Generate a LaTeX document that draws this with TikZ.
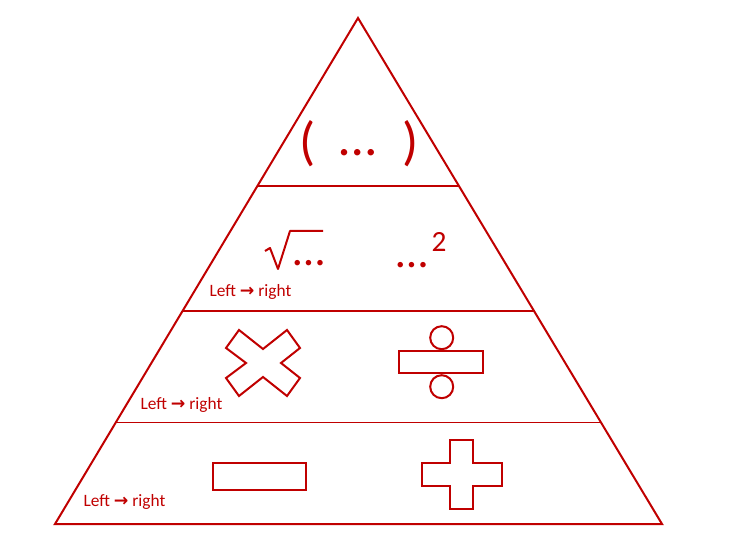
\documentclass[tikz,border=0pt]{standalone}
\usepackage{fontspec}
\setmainfont{Carlito}
\newfontfamily\arrowfont{DejaVu Sans}
\usetikzlibrary{calc}
\definecolor{pyrred}{HTML}{C00000}
\tikzset{
  pyrside/.style={draw=pyrred, line width=1.5pt, line join=miter},
  pyrlevel/.style={draw=pyrred, line width=0.8pt},
  opshape/.style={draw=pyrred, line width=1.5pt},
  ordertext/.style={text=pyrred, inner sep=0pt, font=\fontsize{13}{15}\selectfont},
  bigsym/.style={text=pyrred, inner sep=0pt, anchor=base, font=\fontsize{40}{44}\selectfont},
  midsym/.style={text=pyrred, inner sep=0pt, anchor=base, font=\fontsize{34}{38}\selectfont}
}
\newcommand{\ordarrow}{{\arrowfont\bfseries →}}

\begin{document}
\begin{tikzpicture}[x=0.75pt, y=-0.75pt]
\useasboundingbox (0,0) rectangle (736,538);

% pyramid
\coordinate (apex) at (358,18);
\coordinate (baseL) at (55,524);
\coordinate (baseR) at (662,524);
\draw[pyrside] (apex) -- (baseR) -- (baseL) -- cycle;
\draw[pyrlevel] ($(apex)!0.332!(baseL)$) -- ($(apex)!0.332!(baseR)$);
\draw[pyrlevel] ($(apex)!0.579!(baseL)$) -- ($(apex)!0.579!(baseR)$);
\draw[pyrlevel] ($(apex)!0.800!(baseL)$) -- ($(apex)!0.800!(baseR)$);

% brackets
\node[bigsym] (paropen) at (307.5,160) {(};
\node[bigsym] (pardots) at (357.5,156) {…};
\node[bigsym] (parclose) at (410.5,160) {)};

% roots and powers
\draw[opshape, line join=round] (265,251) -- (270,248) -- (278,269) -- (290,231) -- (323,231);
\node[midsym] (rootdots) at (309,266) {…};
\node[midsym] (powdots) at (412.5,268) {…};
\node[text=pyrred, inner sep=0pt, anchor=base, font=\fontsize{22}{26}\selectfont] (powtwo) at (439,252) {2};
\node[ordertext] (orderB) at (250.5,292) {Left \ordarrow{} right};

% multiplication and division
\draw[opshape] (226,348) -- (239,330) -- (263,349) -- (287,330) -- (300,348) -- (281,363)
  -- (300,378) -- (287,396) -- (263,377) -- (239,396) -- (226,378) -- (246,363) -- cycle;
\draw[opshape] (441.7,337.7) circle[radius=11.5];
\draw[opshape] (399.3,350.7) rectangle (483.3,373.3);
\draw[opshape] (441.7,386.7) circle[radius=11.5];
\node[ordertext] (orderC) at (181.5,405) {Left \ordarrow{} right};

% addition and subtraction
\draw[opshape] (212.7,463.3) rectangle (306,490);
\draw[opshape] (450,440) -- (473.3,440) -- (473.3,463.3) -- (501.7,463.3) -- (501.7,486)
  -- (473.3,486) -- (473.3,509) -- (450,509) -- (450,486) -- (421.7,486) -- (421.7,463.3)
  -- (450,463.3) -- cycle;
\node[ordertext] (orderD) at (124.5,502) {Left \ordarrow{} right};
\end{tikzpicture}
\end{document}
